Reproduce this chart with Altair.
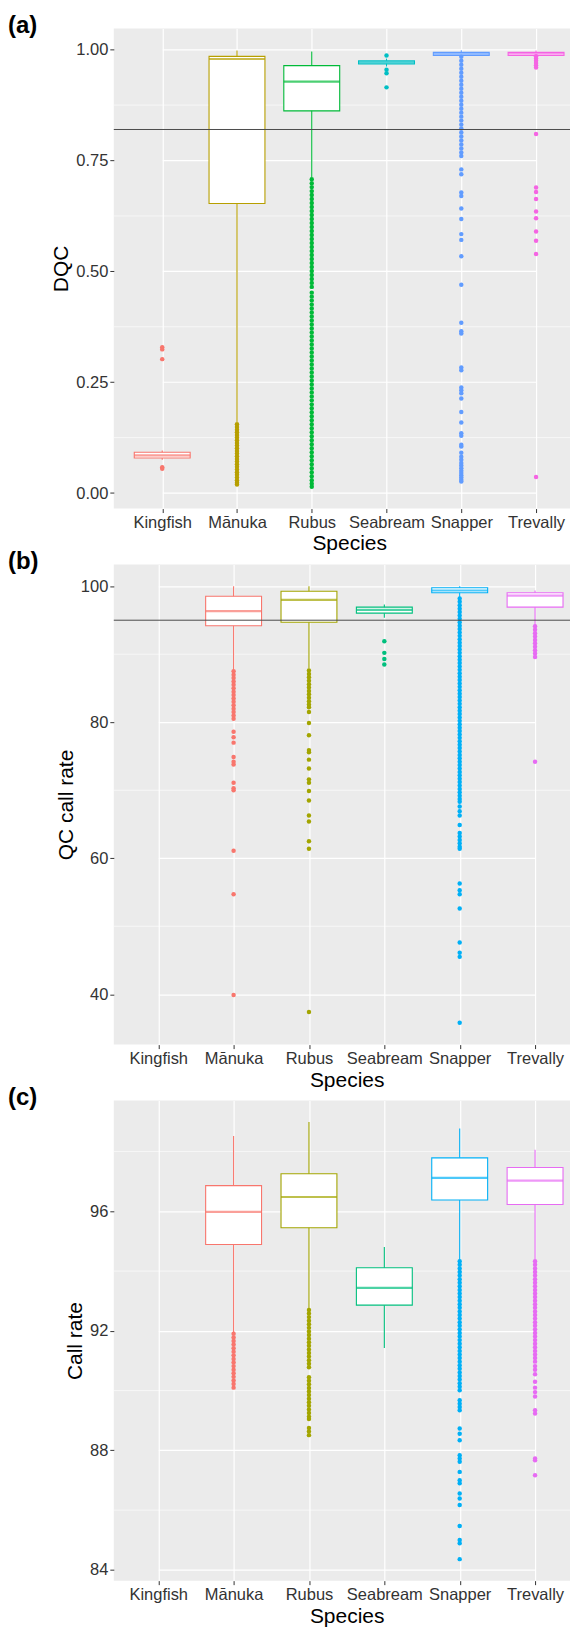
import altair as alt
import pandas as pd

FONT = "Liberation Sans"
SPECIES = ["Kingfish", "Mānuka", "Rubus", "Seabream", "Snapper", "Trevally"]

# ---------------- panel (a): DQC ----------------
A_SPECIES = ["Kingfish", "Mānuka", "Rubus", "Seabream", "Snapper", "Trevally"]
A_COLORS = ["#F8766D", "#B79F00", "#00BA38", "#00BFC4", "#619CFF", "#F564E3"]
A_LO = [0.075, 0.160, 0.712, 0.962, 0.986, 0.985]
A_Q1 = [0.079, 0.653, 0.862, 0.968, 0.987, 0.987]
A_MED = [0.085, 0.979, 0.928, 0.972, 0.990, 0.991]
A_Q3 = [0.092, 0.985, 0.964, 0.975, 0.994, 0.994]
A_HI = [0.096, 0.998, 0.996, 0.980, 0.999, 0.998]
A_OUT = {
    "Kingfish": [0.329, 0.324, 0.302, 0.058, 0.055],
    "Mānuka": [0.155, 0.149, 0.143, 0.137, 0.131, 0.125, 0.119, 0.113, 0.107, 0.101,
               0.095, 0.089, 0.083, 0.077, 0.071, 0.065, 0.059, 0.053, 0.047, 0.041,
               0.035, 0.029, 0.023, 0.019],
    "Rubus": [0.708, 0.699, 0.690, 0.681, 0.672, 0.663, 0.654, 0.645, 0.636, 0.627,
              0.618, 0.609, 0.600, 0.591, 0.582, 0.573, 0.564, 0.555, 0.546, 0.537,
              0.528, 0.519, 0.510, 0.501, 0.492, 0.483, 0.474, 0.465, 0.452, 0.443,
              0.434, 0.425, 0.416, 0.407, 0.398, 0.389, 0.380, 0.371, 0.362, 0.353,
              0.344, 0.335, 0.326, 0.317, 0.308, 0.299, 0.290, 0.281, 0.272, 0.263,
              0.254, 0.245, 0.236, 0.227, 0.218, 0.209, 0.200, 0.191, 0.182, 0.173,
              0.164, 0.155, 0.146, 0.137, 0.128, 0.119, 0.110, 0.101, 0.092, 0.083,
              0.074, 0.065, 0.056, 0.047, 0.038, 0.029, 0.021, 0.014],
    "Seabream": [0.987, 0.955, 0.947, 0.915],
    "Snapper": [0.984, 0.975, 0.966, 0.957, 0.948, 0.939, 0.930, 0.921, 0.912, 0.903,
                0.894, 0.885, 0.876, 0.867, 0.858, 0.849, 0.840, 0.831, 0.822, 0.813,
                0.804, 0.795, 0.786, 0.777, 0.768, 0.760, 0.730, 0.719, 0.678, 0.670,
                0.642, 0.618, 0.584, 0.571, 0.534, 0.470, 0.384, 0.365, 0.360, 0.283,
                0.277, 0.238, 0.232, 0.225, 0.213, 0.183, 0.159, 0.135, 0.129, 0.109,
                0.105, 0.091, 0.082, 0.075, 0.068, 0.062, 0.056, 0.050, 0.045, 0.040,
                0.035, 0.030, 0.026],
    "Trevally": [0.985, 0.980, 0.975, 0.970, 0.965, 0.960, 0.810, 0.689, 0.679, 0.663,
                 0.635, 0.620, 0.590, 0.569, 0.539, 0.036],
}
A_DOMAIN = [-0.035, 1.048]
A_TICKS = [0.0, 0.25, 0.50, 0.75, 1.00]
A_MINOR = [0.125, 0.375, 0.625, 0.875]
A_LINE = [0.82]

# ---------------- panel (b): QC call rate ----------------
B_SPECIES = ["Mānuka", "Rubus", "Seabream", "Snapper", "Trevally"]
B_COLORS = ["#F8766D", "#A3A500", "#00BF7D", "#00B0F6", "#E76BF3"]
B_LO = [87.7, 87.9, 95.36, 98.0, 94.2]
B_Q1 = [94.18, 94.71, 96.04, 99.03, 96.92]
B_MED = [96.33, 98.0, 96.53, 99.37, 98.63]
B_Q3 = [98.53, 99.27, 96.92, 99.77, 99.03]
B_HI = [100.0, 100.0, 97.3, 100.0, 99.37]
B_OUT = {
    "Mānuka": [87.5, 87.0, 86.5, 86.0, 85.5, 85.0, 84.5, 84.0, 83.5, 83.0, 82.5, 82.0,
               81.5, 81.0, 80.5, 78.6, 77.8, 77.0, 74.9, 74.2, 73.8, 71.1, 70.3, 70.0,
               61.1, 54.7, 39.9],
    "Rubus": [87.6, 87.1, 86.6, 86.1, 85.6, 85.1, 84.6, 84.1, 83.6, 83.1, 82.6, 82.2,
              81.5, 79.9, 78.1, 75.9, 75.6, 74.5, 73.2, 71.6, 71.1, 69.9, 68.5, 66.3,
              65.4, 62.5, 61.4, 37.4],
    "Seabream": [91.9, 90.2, 89.3, 88.5],
    "Snapper": [98.2, 97.7, 97.2, 96.7, 96.2, 95.7, 95.2, 94.7, 94.2, 93.7, 93.2, 92.7,
                92.2, 91.7, 91.2, 90.7, 90.2, 89.7, 89.2, 88.7, 88.2, 87.7, 87.2, 86.7,
                86.2, 85.7, 85.2, 84.7, 84.2, 83.7, 83.2, 82.7, 82.2, 81.7, 81.2, 80.7,
                80.2, 79.7, 79.2, 78.7, 78.2, 77.7, 77.2, 76.7, 76.2, 75.7, 75.2, 74.7,
                74.2, 73.7, 73.2, 72.7, 72.2, 71.7, 71.2, 70.7, 70.2, 69.7, 69.2, 68.7,
                68.3, 67.6, 66.9, 66.3, 64.9, 63.7, 63.2, 62.7, 62.2, 61.7, 61.4, 56.3,
                55.3, 54.7, 52.6, 47.6, 46.1, 45.5, 35.8],
    "Trevally": [94.1, 93.6, 93.1, 92.6, 92.1, 91.6, 91.1, 90.6, 90.1, 89.6, 74.2],
}
B_DOMAIN = [32.6, 103.2]
B_TICKS = [40, 60, 80, 100]
B_MINOR = [50, 70, 90]
B_LINE = [95.0]

# ---------------- panel (c): Call rate ----------------
C_SPECIES = ["Mānuka", "Rubus", "Seabream", "Snapper", "Trevally"]
C_COLORS = ["#F8766D", "#A3A500", "#00BF7D", "#00B0F6", "#E76BF3"]
C_LO = [91.95, 92.75, 91.43, 94.35, 94.40]
C_Q1 = [94.89, 95.45, 92.86, 96.38, 96.23]
C_MED = [95.98, 96.48, 93.44, 97.12, 97.03]
C_Q3 = [96.86, 97.26, 94.11, 97.79, 97.47]
C_HI = [98.52, 98.99, 94.81, 98.77, 98.06]
C_OUT = {
    "Mānuka": [91.90, 91.78, 91.66, 91.54, 91.42, 91.30, 91.18, 91.06, 90.94, 90.82,
               90.70, 90.58, 90.46, 90.34, 90.22, 90.10],
    "Rubus": [92.70, 92.58, 92.46, 92.34, 92.22, 92.10, 91.98, 91.86, 91.74, 91.62,
              91.50, 91.38, 91.26, 91.14, 91.02, 90.90, 90.78, 90.45, 90.33, 90.21,
              90.09, 89.97, 89.85, 89.73, 89.61, 89.49, 89.37, 89.25, 89.13, 89.05,
              88.75, 88.63, 88.51],
    "Seabream": [],
    "Snapper": [94.33, 94.21, 94.09, 93.97, 93.85, 93.73, 93.61, 93.49, 93.37, 93.25,
                93.13, 93.01, 92.89, 92.77, 92.65, 92.53, 92.41, 92.29, 92.17, 92.05,
                91.93, 91.81, 91.69, 91.57, 91.45, 91.33, 91.21, 91.09, 90.97, 90.85,
                90.73, 90.61, 90.49, 90.37, 90.25, 90.13, 90.01, 89.68, 89.56, 89.45,
                89.34, 88.73, 88.56, 88.34, 87.84, 87.73, 87.62, 87.28, 87.00, 86.90,
                86.56, 86.39, 86.17, 85.47, 85.00, 84.89, 84.36],
    "Trevally": [94.33, 94.21, 94.09, 93.97, 93.85, 93.73, 93.61, 93.49, 93.37, 93.25,
                 93.13, 93.01, 92.89, 92.77, 92.65, 92.53, 92.41, 92.29, 92.17, 92.05,
                 91.93, 91.81, 91.69, 91.57, 91.45, 91.33, 91.21, 91.09, 90.97, 90.82,
                 90.70, 90.55, 90.30, 90.10, 89.95, 89.80, 89.34, 89.23, 87.73, 87.67,
                 87.17],
}
C_DOMAIN = [83.64, 99.71]
C_TICKS = [84, 88, 92, 96]
C_MINOR = [86, 90, 94, 98]

PLOT_W = 457
PLOT_H = 481
BOX_W = 56
LABEL_DX = -106


def panel(label, species, colors, lo, q1, med, q3, hi, out, domain, ticks, minor,
          ytitle, fmt, xrange, line=None):
    stats = pd.DataFrame({"species": species, "lo": lo, "q1": q1, "med": med,
                          "q3": q3, "hi": hi})
    pts = pd.DataFrame([(s, v) for s in species for v in out.get(s, [])],
                       columns=["species", "v"])
    xenc = alt.X("species:N", title="Species",
                 scale=alt.Scale(type="point", domain=SPECIES, range=xrange,
                                 padding=0),
                 axis=alt.Axis(labelAngle=0, grid=True, titlePadding=2))
    cscale = alt.Scale(domain=species, range=colors)
    yscale = alt.Scale(domain=domain, nice=False, zero=False)

    def Y(field):
        return alt.Y(field, title=ytitle, scale=yscale,
                     axis=alt.Axis(values=ticks, format=fmt, grid=True,
                                   titlePadding=4))

    minor_df = pd.DataFrame({"m": minor})
    layers = [
        alt.Chart(minor_df).mark_rule(color="white", strokeWidth=0.6).encode(y=Y("m:Q")),
        alt.Chart(stats).mark_rule(strokeWidth=1.1).encode(
            x=xenc, y=Y("lo:Q"), y2="hi:Q",
            stroke=alt.Stroke("species:N", scale=cscale, legend=None)),
        alt.Chart(stats).mark_bar(size=BOX_W, fill="white", strokeWidth=1.1).encode(
            x=xenc, y=Y("q1:Q"), y2="q3:Q",
            stroke=alt.Stroke("species:N", scale=cscale, legend=None)),
        alt.Chart(stats).mark_tick(size=BOX_W, thickness=2.2).encode(
            x=xenc, y=Y("med:Q"),
            color=alt.Color("species:N", scale=cscale, legend=None)),
        alt.Chart(pts).mark_circle(size=20, opacity=1).encode(
            x=xenc, y=Y("v:Q"),
            color=alt.Color("species:N", scale=cscale, legend=None)),
    ]
    if line is not None:
        layers.append(alt.Chart(pd.DataFrame({"t": line})).mark_rule(
            color="#4a4a4a", strokeWidth=1).encode(y=Y("t:Q")))
    layers.append(alt.Chart(pd.DataFrame({"label": [label]})).mark_text(
        align="left", baseline="top", fontSize=24, fontWeight="bold", font=FONT,
        color="black").encode(text="label:N", x=alt.value(LABEL_DX), y=alt.value(-14)))
    return alt.layer(*layers).properties(width=PLOT_W, height=PLOT_H)


pa = panel("(a)", A_SPECIES, A_COLORS, A_LO, A_Q1, A_MED, A_Q3, A_HI, A_OUT,
           A_DOMAIN, A_TICKS, A_MINOR, "DQC", ".2f", [48.5, 423], A_LINE)
pb = panel("(b)", B_SPECIES, B_COLORS, B_LO, B_Q1, B_MED, B_Q3, B_HI, B_OUT,
           B_DOMAIN, B_TICKS, B_MINOR, "QC call rate", "d", [44.5, 422], B_LINE)
pc = panel("(c)", C_SPECIES, C_COLORS, C_LO, C_Q1, C_MED, C_Q3, C_HI, C_OUT,
           C_DOMAIN, C_TICKS, C_MINOR, "Call rate", "d", [44.5, 422])

chart = alt.vconcat(pa, pb, pc, spacing=56, bounds="flush").properties(
    padding={"left": 0, "top": 5, "right": 0, "bottom": 0}
).resolve_scale(color="independent", stroke="independent", y="independent",
                x="independent").configure_view(
    fill="#EBEBEB", stroke=None
).configure_axis(
    labelFont=FONT, titleFont=FONT, labelFontSize=16.5, titleFontSize=21,
    labelColor="#333333", titleColor="black", titleFontWeight="normal",
    tickColor="#333333", tickSize=4, tickWidth=1, domain=False,
    gridColor="white", gridWidth=1.2, labelPadding=2
)

chart.save("out.html", embed_options={"renderer": "svg", "actions": False})
